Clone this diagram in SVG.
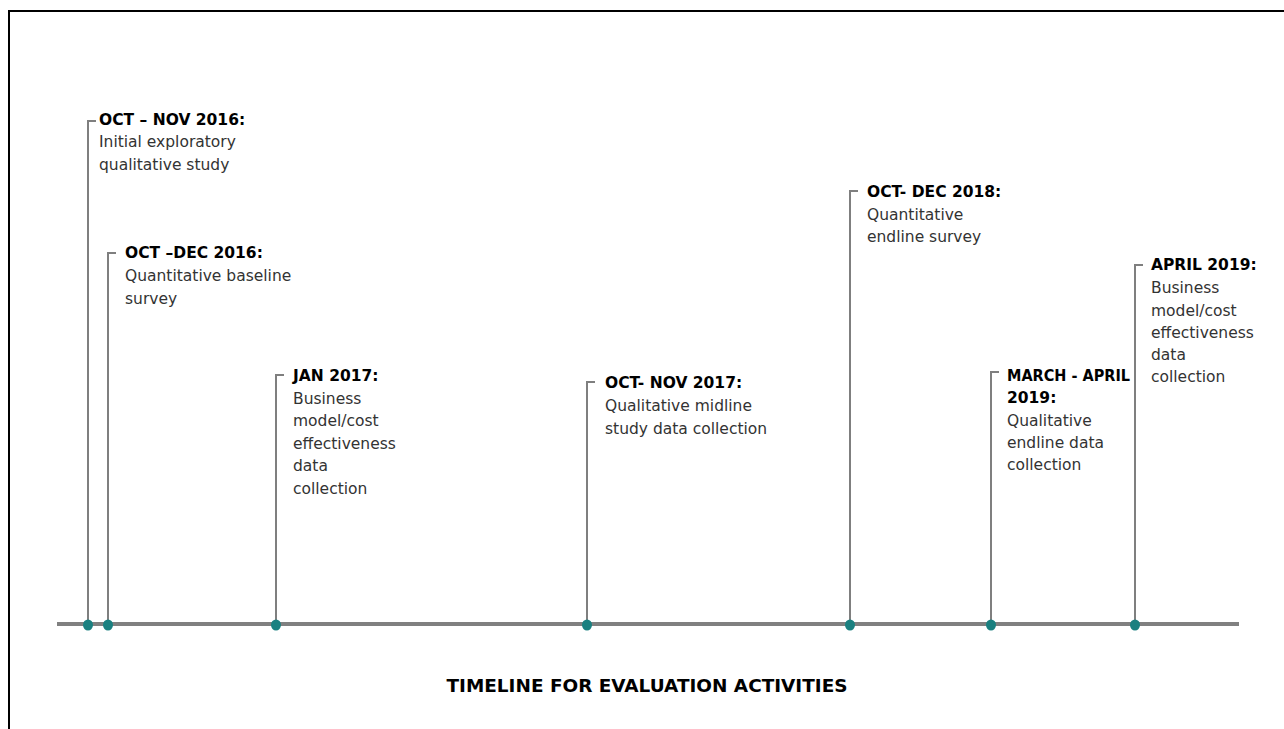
<svg xmlns="http://www.w3.org/2000/svg" width="1284" height="729" viewBox="0 0 1284 729">
<style>
.frame{stroke:#000;stroke-width:2;fill:none}
.axis{stroke:#808080;stroke-width:4}
.stem{stroke:#7f7f7f;stroke-width:2;fill:none}
.dot{fill:#1a8080}
.hd{font-family:"DejaVu Sans",sans-serif;font-weight:bold;font-size:15.5px;fill:#000}
.bd{font-family:"DejaVu Sans",sans-serif;font-size:15.5px;fill:#333}
.title{font-family:"DejaVu Sans",sans-serif;font-weight:bold;font-size:18.5px;fill:#000}
</style>
<rect width="1284" height="729" fill="#fff"/>
<path class="frame" d="M9,729 V11 H1284"/>
<g id="connectors">
<line class="axis" x1="57" y1="624" x2="1239" y2="624"/>
<path class="stem" d="M96,121 H88 V625"/>
<path class="stem" d="M116,253 H108 V625"/>
<path class="stem" d="M284,375 H276 V625"/>
<path class="stem" d="M595,382 H587 V625"/>
<path class="stem" d="M858,191 H850 V625"/>
<path class="stem" d="M999,372 H991 V625"/>
<path class="stem" d="M1143,265 H1135 V625"/>
</g>
<g id="n1">
<ellipse class="dot" cx="88" cy="625" rx="5" ry="5.5"/>
<text class="hd" x="99" y="125">OCT – NOV 2016:</text>
<text class="bd" x="99" y="147">Initial exploratory</text>
<text class="bd" x="99" y="170">qualitative study</text>
</g>
<g id="n2">
<ellipse class="dot" cx="108" cy="625" rx="5" ry="5.5"/>
<text class="hd" x="125" y="258">OCT –DEC 2016:</text>
<text class="bd" x="125" y="281">Quantitative baseline</text>
<text class="bd" x="125" y="304">survey</text>
</g>
<g id="n3">
<ellipse class="dot" cx="276" cy="625" rx="5" ry="5.5"/>
<text class="hd" x="293" y="381">JAN 2017:</text>
<text class="bd" x="293" y="404">Business</text>
<text class="bd" x="293" y="426">model/cost</text>
<text class="bd" x="293" y="449">effectiveness</text>
<text class="bd" x="293" y="471">data</text>
<text class="bd" x="293" y="494">collection</text>
</g>
<g id="n4">
<ellipse class="dot" cx="587" cy="625" rx="5" ry="5.5"/>
<text class="hd" x="605" y="388">OCT- NOV 2017:</text>
<text class="bd" x="605" y="411">Qualitative midline</text>
<text class="bd" x="605" y="434">study data collection</text>
</g>
<g id="n5">
<ellipse class="dot" cx="850" cy="625" rx="5" ry="5.5"/>
<text class="hd" x="867" y="197">OCT- DEC 2018:</text>
<text class="bd" x="867" y="220">Quantitative</text>
<text class="bd" x="867" y="242">endline survey</text>
</g>
<g id="n6">
<ellipse class="dot" cx="991" cy="625" rx="5" ry="5.5"/>
<text class="hd" x="1007" y="381" textLength="123" lengthAdjust="spacingAndGlyphs">MARCH - APRIL</text>
<text class="hd" x="1007" y="403">2019:</text>
<text class="bd" x="1007" y="426">Qualitative</text>
<text class="bd" x="1007" y="448">endline data</text>
<text class="bd" x="1007" y="470">collection</text>
</g>
<g id="n7">
<ellipse class="dot" cx="1135" cy="625" rx="5" ry="5.5"/>
<text class="hd" x="1151" y="270">APRIL 2019:</text>
<text class="bd" x="1151" y="293">Business</text>
<text class="bd" x="1151" y="316">model/cost</text>
<text class="bd" x="1151" y="338">effectiveness</text>
<text class="bd" x="1151" y="360">data</text>
<text class="bd" x="1151" y="382">collection</text>
</g>
<g id="title">
<text class="title" x="647" y="692" text-anchor="middle" textLength="401" lengthAdjust="spacingAndGlyphs">TIMELINE FOR EVALUATION ACTIVITIES</text>
</g>
</svg>
